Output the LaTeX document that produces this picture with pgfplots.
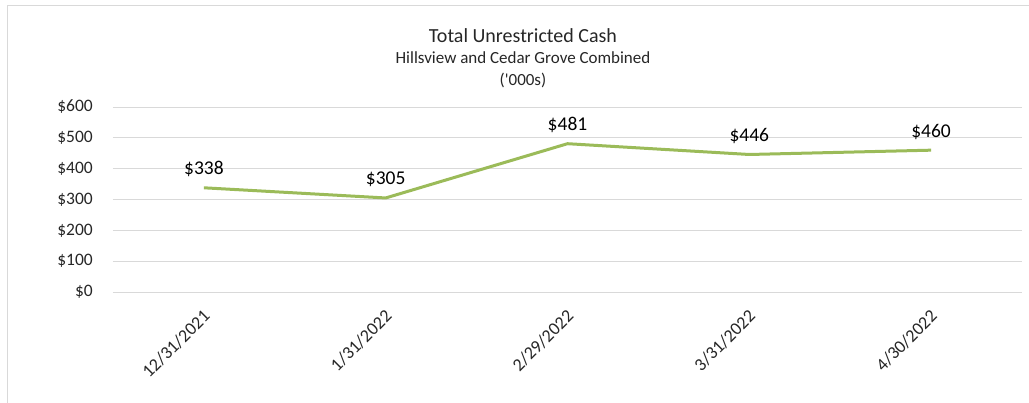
\documentclass[border=0pt]{standalone}
\usepackage{pgfplots}
\pgfplotsset{compat=1.18}
\usepackage{fontspec}
\setmainfont{Carlito}
\definecolor{cashgreen}{HTML}{9BBB59}
\definecolor{gridgray}{HTML}{D9D9D9}
\definecolor{framegray}{HTML}{D9D9D9}
\begin{document}
\begin{tikzpicture}
\path[use as bounding box] (0,0) rectangle (1029pt,402pt);
% chart frame (right and bottom edges fall outside the picture)
\draw[framegray, line width=1pt] (7pt,-20pt) -- (7pt,396pt) -- (1040pt,396pt);
\node[font=\fontsize{20}{24}\selectfont, text=black!85] at (523pt,366pt) {Total Unrestricted Cash};
\node[font=\fontsize{17}{20}\selectfont, text=black!85] at (523pt,344pt) {Hillsview and Cedar Grove Combined};
\node[font=\fontsize{17}{20}\selectfont, text=black!85] at (523pt,322pt) {(\textquotesingle000s)};
\begin{axis}[
	at={(113pt,110pt)}, anchor=south west,
	scale only axis,
	width=909pt, height=185pt,
	xmin=-0.5, xmax=4.5,
	ymin=0, ymax=600,
	ytick={0,100,...,600},
	xtick={0,1,2,3,4},
	xticklabels={12/31/2021,1/31/2022,2/29/2022,3/31/2022,4/30/2022},
	axis line style={draw=none},
	tick style={draw=none},
	ymajorgrids,
	major grid style={gridgray, line width=1pt},
	yticklabel={\$\pgfmathprintnumber{\tick}},
	/pgf/number format/assume math mode=true,
	tick label style={font=\fontsize{17.5}{20}\selectfont, text=black!85},
	yticklabel style={anchor=east, inner sep=0pt, xshift=-20pt},
	xticklabel style={xshift=3pt, yshift=-21pt, rotate=45, anchor=east, inner sep=0pt, font=\fontsize{18}{20}\selectfont},
	nodes near coords={\$\pgfmathprintnumber{\pgfplotspointmeta}},
	nodes near coords style={font=\fontsize{19.5}{22}\selectfont, text=black, anchor=south, yshift=6pt},
	clip=false,
]
\addplot[cashgreen, line width=3pt, line join=round] coordinates {
	(0,338) (1,305) (2,481) (3,446) (4,460)
};
\end{axis}
\end{tikzpicture}
\end{document}
